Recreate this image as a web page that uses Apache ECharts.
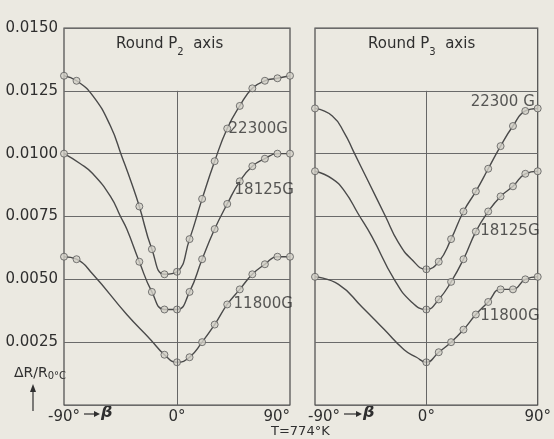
<!DOCTYPE html>
<html>
<head>
<meta charset="utf-8">
<script src="https://cdn.jsdelivr.net/npm/echarts@6/dist/echarts.min.js"></script>
<style>
html,body{margin:0;padding:0;background:#ebe9e1;}
#c{width:554px;height:439px;}
</style>
</head>
<body>
<div id="c"></div>
<script>
// ---------- data (β in degrees, ΔR/R0°C) ----------
const xTicks = [-90, 0, 90];
const yTicks = [0.0025, 0.0050, 0.0075, 0.0100, 0.0125, 0.0150];
const panelTitles = ['P2', 'P3'];
const fieldLabels = ['22300G', '18125G', '11800G'];

// Round P2 axis – measured points
const p2_22300_b = [-90, -80, -30, -20, -10, 0, 10, 20, 30, 40, 50, 60, 70, 80, 90];
const p2_22300_v = [0.0131, 0.0129, 0.0079, 0.0062, 0.0052, 0.0053, 0.0066, 0.0082, 0.0097, 0.0110, 0.0119, 0.0126, 0.0129, 0.0130, 0.0131];
const p2_18125_b = [-90, -30, -20, -10, 0, 10, 20, 30, 40, 50, 60, 70, 80, 90];
const p2_18125_v = [0.0100, 0.0057, 0.0045, 0.0038, 0.0038, 0.0045, 0.0058, 0.0070, 0.0080, 0.0089, 0.0095, 0.0098, 0.0100, 0.0100];
const p2_11800_b = [-90, -80, -10, 0, 10, 20, 30, 40, 50, 60, 70, 80, 90];
const p2_11800_v = [0.0059, 0.0058, 0.0020, 0.0017, 0.0019, 0.0025, 0.0032, 0.0040, 0.0046, 0.0052, 0.0056, 0.0059, 0.0059];
// Round P2 axis – curve read between sparse points
const p2_22300_tb = [-67, -53, -44, -36];
const p2_22300_tv = [0.0123, 0.0111, 0.0099, 0.0088];
const p2_18125_tb = [-77, -67, -53, -45, -40];
const p2_18125_tv = [0.0096, 0.0092, 0.0083, 0.0075, 0.0070];
const p2_11800_tb = [-67, -40, -21];
const p2_11800_tv = [0.0052, 0.0036, 0.0026];

// Round P3 axis – measured points
const p3_22300_b = [-90, 0, 10, 20, 30, 40, 50, 60, 70, 80, 90];
const p3_22300_v = [0.0118, 0.0054, 0.0057, 0.0066, 0.0077, 0.0085, 0.0094, 0.0103, 0.0111, 0.0117, 0.0118];
const p3_18125_b = [-90, 0, 10, 20, 30, 40, 50, 60, 70, 80, 90];
const p3_18125_v = [0.0093, 0.0038, 0.0042, 0.0049, 0.0058, 0.0069, 0.0077, 0.0083, 0.0087, 0.0092, 0.0093];
const p3_11800_b = [-90, 0, 10, 20, 30, 40, 50, 60, 70, 80, 90];
const p3_11800_v = [0.0051, 0.0017, 0.0021, 0.0025, 0.0030, 0.0036, 0.0041, 0.0046, 0.0046, 0.0050, 0.0051];
// Round P3 axis – curve read between sparse points
const p3_22300_tb = [-76, -66, -59, -47, -33, -23, -12];
const p3_22300_tv = [0.0115, 0.0108, 0.0101, 0.0089, 0.0075, 0.0065, 0.0058];
const p3_18125_tb = [-76, -66, -55, -44, -26, -12];
const p3_18125_tv = [0.0090, 0.0085, 0.0076, 0.0067, 0.0050, 0.0041];
const p3_11800_tb = [-71, -52, -34, -18, -8];
const p3_11800_tv = [0.0048, 0.0039, 0.0030, 0.0022, 0.0019];

const zeroLineTop = 0.0125;

// ---------- build ----------
const FONT = 'DejaVu Sans';
const INK = '#2f2f2f';
const LINE = '#4a4a4a';
const BG = '#ebe9e1';

const curves = [
  {g:0, b:p2_22300_b, v:p2_22300_v, tb:p2_22300_tb, tv:p2_22300_tv, lab:fieldLabels[0], at:40, off:[31,1]},
  {g:0, b:p2_18125_b, v:p2_18125_v, tb:p2_18125_tb, tv:p2_18125_tv, lab:fieldLabels[1], at:40, off:[37,-14]},
  {g:0, b:p2_11800_b, v:p2_11800_v, tb:p2_11800_tb, tv:p2_11800_tv, lab:fieldLabels[2], at:40, off:[36,0]},
  {g:1, b:p3_22300_b, v:p3_22300_v, tb:p3_22300_tb, tv:p3_22300_tv, lab:'22300 G', at:90, off:[-35,-6]},
  {g:1, b:p3_18125_b, v:p3_18125_v, tb:p3_18125_tb, tv:p3_18125_tv, lab:fieldLabels[1], at:40, off:[34,0]},
  {g:1, b:p3_11800_b, v:p3_11800_v, tb:p3_11800_tb, tv:p3_11800_tv, lab:fieldLabels[2], at:40, off:[34,2]}
];

function merged(c){
  const pts = c.b.map((b,i)=>[b,c.v[i]]).concat(c.tb.map((b,i)=>[b,c.tv[i]]));
  pts.sort((a,b)=>a[0]-b[0]);
  return pts;
}

const series = [];
curves.forEach(c=>{
  series.push({
    type:'line', xAxisIndex:c.g, yAxisIndex:c.g, data:merged(c),
    smooth:0.5, showSymbol:false, symbol:'none', silent:true,
    lineStyle:{color:LINE, width:1.4}, z:2
  });
  series.push({
    type:'scatter', xAxisIndex:c.g, yAxisIndex:c.g, symbol:'circle', symbolSize:7,
    itemStyle:{color:'#d2d0c7', borderColor:'#5a5a5a', borderWidth:1}, z:3, silent:true,
    data:c.b.map((b,i)=>{
      const d = {value:[b,c.v[i]]};
      if (b===c.at) d.label = {show:true, position:'inside', offset:c.off, formatter:c.lab,
        color:INK, fontSize:15, fontFamily:FONT};
      return d;
    })
  });
});
[0,1].forEach(g=>{
  series.push({
    type:'line', xAxisIndex:g, yAxisIndex:g, data:[], silent:true,
    markLine:{silent:true, symbol:'none', label:{show:false},
      lineStyle:{color:'#666', width:1, type:'solid'},
      data:[[{coord:[0,0]},{coord:[0,zeroLineTop]}]]}
  });
});

const grids = [
  {left:64, top:28, width:226, height:377},
  {left:315, top:28, width:225, height:377}
].map(g=>Object.assign(g,{show:true, borderColor:LINE, borderWidth:1.2, backgroundColor:'transparent'}));

const xAxes = [0,1].map(g=>({
  type:'value', gridIndex:g, min:xTicks[0], max:xTicks[2], interval:90,
  axisLine:{show:false}, axisTick:{show:false}, splitLine:{show:false},
  axisLabel:{color:INK, fontSize:15, fontFamily:FONT, margin:5,
    formatter:v=> (g===1 && v===xTicks[0]) ? '{m|' + v + '°}' : v + '°',
    rich:{m:{color:INK, fontSize:15, fontFamily:FONT, padding:[0,0,0,18]}},
    alignMaxLabel: g===0 ? 'right' : 'center'}
}));
const yAxes = [0,1].map(g=>({
  type:'value', gridIndex:g, min:0, max:yTicks[yTicks.length-1], interval:0.0025,
  axisLine:{show:false}, axisTick:{show:false},
  splitLine:{show:true, lineStyle:{color:'#6a6a6a', width:1}},
  axisLabel:{show:g===0, color:INK, fontSize:15, fontFamily:FONT, margin:6,
    formatter:v=> v===0 ? '' : v.toFixed(4)}
}));

const titleStyle = {fill:INK, fontSize:15, fontFamily:FONT,
  rich:{s:{fontSize:10, fontFamily:FONT, fill:INK, verticalAlign:'bottom', padding:[0,0,-5,0]}}};

function arrow(x1, x2, y){
  return [
    {type:'line', shape:{x1:x1, y1:y, x2:x2-5, y2:y}, style:{stroke:INK, lineWidth:1.2}},
    {type:'polygon', shape:{points:[[x2-6,y-3],[x2-6,y+3],[x2,y]]}, style:{fill:INK}}
  ];
}

const graphic = [
  {type:'text', left:116, top:37, style:Object.assign({text:'Round P{s|' + panelTitles[0].slice(1) + '}  axis'}, titleStyle)},
  {type:'text', left:368, top:37, style:Object.assign({text:'Round P{s|' + panelTitles[1].slice(1) + '}  axis'}, titleStyle)},
  ...arrow(84, 100, 414),
  {type:'text', left:101, top:405, style:{text:'β', fill:INK, fontSize:16, fontFamily:FONT, fontStyle:'italic', fontWeight:'bold'}},
  ...arrow(344, 362, 414),
  {type:'text', left:363, top:405, style:{text:'β', fill:INK, fontSize:16, fontFamily:FONT, fontStyle:'italic', fontWeight:'bold'}},
  {type:'text', left:271, top:425, style:{text:'T=774°K', fill:INK, fontSize:13, fontFamily:FONT}},
  {type:'text', left:14, top:366, style:{text:'ΔR/R{s|0°C}', fill:INK, fontSize:14, fontFamily:FONT,
    rich:{s:{fontSize:10, fontFamily:FONT, fill:INK, padding:[0,0,-6,0]}}}},
  {type:'line', shape:{x1:33, y1:411, x2:33, y2:390}, style:{stroke:INK, lineWidth:1.2}},
  {type:'polygon', shape:{points:[[30,392],[36,392],[33,384]]}, style:{fill:INK}}
];

const chart = echarts.init(document.getElementById('c'), null, {renderer:'canvas'});
chart.setOption({
  backgroundColor:BG,
  animation:false,
  grid:grids, xAxis:xAxes, yAxis:yAxes, series:series, graphic:graphic
});
</script>
</body>
</html>
